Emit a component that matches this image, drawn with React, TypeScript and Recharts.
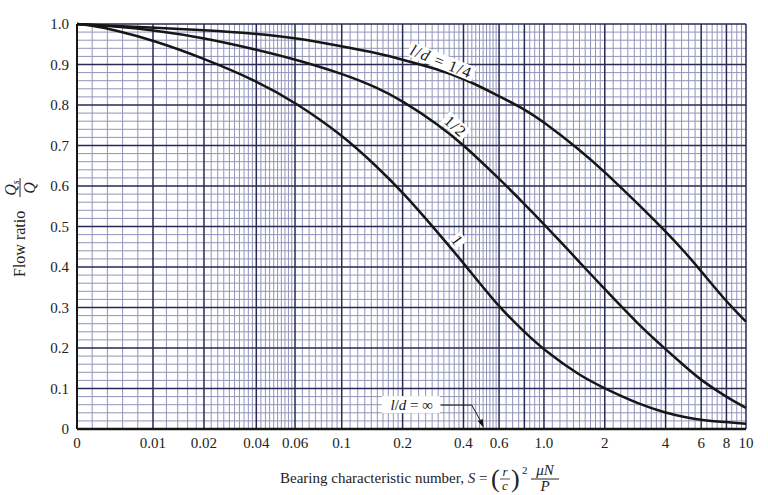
import { LineChart, Line, XAxis, YAxis, ReferenceLine, ReferenceDot } from "recharts";

// bearing characteristic number S
const BEARING_S = [0, 0.002, 0.005, 0.01, 0.02, 0.04, 0.06, 0.1, 0.15, 0.2, 0.3, 0.4, 0.6, 0.8, 1, 1.5, 2, 3, 4, 5, 6, 8, 10];
// flow ratio Qs/Q for each l/d
const RATIO_QUARTER = [1.0, 0.998, 0.995, 0.991, 0.985, 0.976, 0.966, 0.945, 0.928, 0.912, 0.888, 0.866, 0.822, 0.79, 0.758, 0.69, 0.635, 0.55, 0.488, 0.436, 0.39, 0.314, 0.265];
const RATIO_HALF = [1.0, 0.998, 0.994, 0.985, 0.966, 0.937, 0.913, 0.878, 0.843, 0.81, 0.752, 0.702, 0.618, 0.556, 0.506, 0.412, 0.345, 0.253, 0.197, 0.154, 0.12, 0.079, 0.052];
const RATIO_ONE = [1.0, 0.996, 0.985, 0.96, 0.915, 0.86, 0.807, 0.727, 0.647, 0.585, 0.484, 0.41, 0.3, 0.24, 0.195, 0.132, 0.1, 0.06, 0.04, 0.029, 0.022, 0.017, 0.013];
const RATIO_INF = [0, 0, 0, 0, 0, 0, 0, 0, 0, 0, 0, 0, 0, 0, 0, 0, 0, 0, 0, 0, 0, 0, 0];

const X_TICKS = [0, 0.01, 0.02, 0.04, 0.06, 0.1, 0.2, 0.4, 0.6, 1, 2, 4, 6, 8, 10];
const X_TICK_LABELS = ["0", "0.01", "0.02", "0.04", "0.06", "0.1", "0.2", "0.4", "0.6", "1.0", "2", "4", "6", "8", "10"];
const Y_TICKS = [0, 0.1, 0.2, 0.3, 0.4, 0.5, 0.6, 0.7, 0.8, 0.9, 1];
const Y_TICK_LABELS = ["0", "0.1", "0.2", "0.3", "0.4", "0.5", "0.6", "0.7", "0.8", "0.9", "1.0"];

// graph paper: heavy lines and the fine-line spacing between them
const MAJOR_X = [0, 0.01, 0.02, 0.04, 0.06, 0.1, 0.2, 0.4, 0.6, 0.8, 1, 2, 4, 6, 8, 10];
const MINOR_X_BANDS = [
  [0, 0.01, 0.002],
  [0.01, 0.06, 0.002],
  [0.06, 0.1, 0.005],
  [0.1, 0.2, 0.01],
  [0.2, 0.6, 0.02],
  [0.6, 1, 0.05],
  [1, 2, 0.1],
  [2, 4, 0.2],
  [4, 8, 0.4],
  [8, 10, 0.5],
];

// the printed axis is linear up to 0.01 and logarithmic after it
const AXIS_KNOTS = [
  [0, 0],
  [0.01, 0.1136],
  [0.02, 0.1898],
  [0.04, 0.268],
  [0.06, 0.3259],
  [0.1, 0.3957],
  [1, 0.698],
  [10, 1],
];

const INK = "#161616";
const MAJOR_GRID = "#262a55";
const MINOR_GRID = "#8f95bb";
const SERIF = "'Liberation Serif', 'Times New Roman', serif";

function axisFraction(s: number) {
  const [s1, f1] = AXIS_KNOTS[1];
  if (s <= s1) return (s / s1) * f1;
  for (let i = 1; i < AXIS_KNOTS.length - 1; i++) {
    const [a, fa] = AXIS_KNOTS[i];
    const [b, fb] = AXIS_KNOTS[i + 1];
    if (s <= b || i === AXIS_KNOTS.length - 2) {
      return fa + (Math.log10(s / a) / Math.log10(b / a)) * (fb - fa);
    }
  }
  return 1;
}

function bearingScale(): any {
  let dom = [0, 10];
  let rng = [0, 1];
  const scale: any = (v: number) => {
    const a = axisFraction(dom[0]);
    const b = axisFraction(dom[1]);
    return rng[0] + ((axisFraction(v) - a) / (b - a)) * (rng[1] - rng[0]);
  };
  scale.domain = (d?: number[]) => {
    if (d === undefined) return dom;
    dom = [...d];
    return scale;
  };
  scale.range = (r?: number[]) => {
    if (r === undefined) return rng;
    rng = [...r];
    return scale;
  };
  scale.copy = () => bearingScale().domain(dom).range(rng);
  scale.ticks = () => X_TICKS;
  scale.tickFormat = () => (v: number) => String(v);
  return scale;
}

function minorXLines() {
  const out: number[] = [];
  MINOR_X_BANDS.forEach(([from, to, step]) => {
    const n = Math.round((to - from) / step);
    for (let k = 1; k < n; k++) {
      const v = +(from + k * step).toFixed(4);
      if (!MAJOR_X.includes(v)) out.push(v);
    }
  });
  return out;
}

const MINOR_Y = Array.from({ length: 51 }, (_, i) => +(i * 0.02).toFixed(2)).filter((v) => !Y_TICKS.includes(v));

// label sitting beside a curve, rotated to follow it; lift = gap above the curve
function CurveTag({ cx, cy, angle, lift, width, children }: any) {
  return (
    <g transform={`translate(${cx},${cy}) rotate(${angle}) translate(0,${-lift})`}>
      <rect x={-width / 2} y={-8} width={width} height={15} fill="#fff" />
      <text textAnchor="middle" y={5} fontSize={16} letterSpacing={1.2} fontFamily={SERIF} fill={INK}>
        {children}
      </text>
    </g>
  );
}

function InfinityTag({ cx, cy }: any) {
  return (
    <g>
      <rect x={cx - 30} y={cy - 9} width={58} height={17} fill="#fff" />
      <text x={cx} y={cy + 5} textAnchor="middle" fontSize={15} fontFamily={SERIF} fill={INK}>
        <tspan fontStyle="italic">l</tspan>/<tspan fontStyle="italic">d</tspan> = ∞
      </text>
      <polyline points={`${cx + 29},${cy} ${cx + 60},${cy} ${cx + 70},${cy + 18}`} fill="none" stroke={INK} strokeWidth={1} />
      <polygon points={`${cx + 72},${cy + 23} ${cx + 66},${cy + 16} ${cx + 71},${cy + 14}`} fill={INK} />
    </g>
  );
}

function FlowTitle() {
  return (
    <g transform="translate(25,277) rotate(-90)" fontFamily={SERIF} fill="#222" fontSize={16}>
      <text x={0} y={0}>Flow ratio</text>
      <text x={89} y={-9} textAnchor="middle" fontStyle="italic">
        Q<tspan fontSize={10} dy={3}>s</tspan>
      </text>
      <line x1={80} x2={99} y1={-5} y2={-5} stroke="#222" strokeWidth={1} />
      <text x={89} y={10} textAnchor="middle" fontStyle="italic">Q</text>
    </g>
  );
}

function BearingTitle({ viewBox }: any) {
  const x = viewBox.x + 203;
  const y = viewBox.y + 54;
  return (
    <g fontFamily={SERIF} fill="#222" fontSize={15}>
      <text x={x} y={y}>
        Bearing characteristic number, <tspan fontStyle="italic">S</tspan> =
      </text>
      <text x={x + 211} y={y + 4} fontSize={26} fontWeight={300}>(</text>
      <text x={x + 225} y={y - 7} fontSize={13} fontStyle="italic" textAnchor="middle">r</text>
      <line x1={x + 220} x2={x + 230} y1={y - 4} y2={y - 4} stroke="#222" strokeWidth={0.8} />
      <text x={x + 225} y={y + 7} fontSize={13} fontStyle="italic" textAnchor="middle">c</text>
      <text x={x + 231} y={y + 4} fontSize={26} fontWeight={300}>)</text>
      <text x={x + 242} y={y - 9} fontSize={11}>2</text>
      <text x={x + 265} y={y - 8} fontStyle="italic" textAnchor="middle">μN</text>
      <line x1={x + 251} x2={x + 279} y1={y - 4} y2={y - 4} stroke="#222" strokeWidth={1} />
      <text x={x + 265} y={y + 8} fontStyle="italic" textAnchor="middle">P</text>
    </g>
  );
}

export default function App() {
  const rows = BEARING_S.map((s, i) => ({
    s,
    quarter: RATIO_QUARTER[i],
    half: RATIO_HALF[i],
    one: RATIO_ONE[i],
    inf: RATIO_INF[i],
  }));
  const xScale = bearingScale();
  const tickStyle = { fill: "#222", fontSize: 15, fontFamily: SERIF };

  return (
    <div style={{ position: "absolute", left: 0, top: 0, background: "#fff" }}>
      <LineChart width={768} height={495} data={rows} margin={{ top: 24, right: 22, bottom: 0, left: 0 }}>
        <XAxis
          dataKey="s"
          type="number"
          scale={xScale}
          domain={[0, 10]}
          ticks={X_TICKS}
          interval={0}
          tickFormatter={(v: number) => X_TICK_LABELS[X_TICKS.indexOf(v)] ?? ""}
          tickLine={false}
          axisLine={{ stroke: INK, strokeWidth: 2 }}
          tick={tickStyle}
          height={66}
          label={<BearingTitle />}
        />
        <YAxis
          type="number"
          domain={[0, 1]}
          ticks={Y_TICKS}
          interval={0}
          tickFormatter={(v: number) => Y_TICK_LABELS[Y_TICKS.indexOf(v)] ?? ""}
          tickLine={false}
          axisLine={{ stroke: INK, strokeWidth: 2 }}
          tick={tickStyle}
          width={77}
        />

        {minorXLines().map((v) => (
          <ReferenceLine key={`mx${v}`} x={v} stroke={MINOR_GRID} strokeWidth={1} />
        ))}
        {MINOR_Y.map((v) => (
          <ReferenceLine key={`my${v}`} y={v} stroke={MINOR_GRID} strokeWidth={1} />
        ))}
        {MAJOR_X.map((v) => (
          <ReferenceLine key={`Mx${v}`} x={v} stroke={MAJOR_GRID} strokeWidth={1.5} />
        ))}
        {Y_TICKS.map((v) => (
          <ReferenceLine key={`My${v}`} y={v} stroke={MAJOR_GRID} strokeWidth={1.5} />
        ))}

        <Line dataKey="quarter" type="basis" stroke={INK} strokeWidth={2.5} dot={false} isAnimationActive={false} />
        <Line dataKey="half" type="basis" stroke={INK} strokeWidth={2.5} dot={false} isAnimationActive={false} />
        <Line dataKey="one" type="basis" stroke={INK} strokeWidth={2.5} dot={false} isAnimationActive={false} />
        <Line dataKey="inf" type="linear" stroke={INK} strokeWidth={2.5} dot={false} isAnimationActive={false} />

        <ReferenceDot
          x={0.3}
          y={0.888}
          r={0}
          shape={(p: any) => (
            <CurveTag cx={p.cx} cy={p.cy} angle={22} lift={8} width={70}>
              <tspan fontStyle="italic">l</tspan>/<tspan fontStyle="italic">d</tspan> = 1/4
            </CurveTag>
          )}
        />
        <ReferenceDot
          x={0.34}
          y={0.73}
          r={0}
          shape={(p: any) => (
            <CurveTag cx={p.cx} cy={p.cy} angle={42} lift={9} width={28}>
              1/2
            </CurveTag>
          )}
        />
        <ReferenceDot
          x={0.34}
          y={0.45}
          r={0}
          shape={(p: any) => (
            <CurveTag cx={p.cx} cy={p.cy} angle={54} lift={10} width={12}>
              1
            </CurveTag>
          )}
        />
        <ReferenceDot x={0.222} y={0.059} r={0} shape={(p: any) => <InfinityTag cx={p.cx} cy={p.cy} />} />
      </LineChart>
      <svg width={768} height={495} style={{ position: "absolute", left: 0, top: 0, pointerEvents: "none" }}>
        <FlowTitle />
      </svg>
    </div>
  );
}
